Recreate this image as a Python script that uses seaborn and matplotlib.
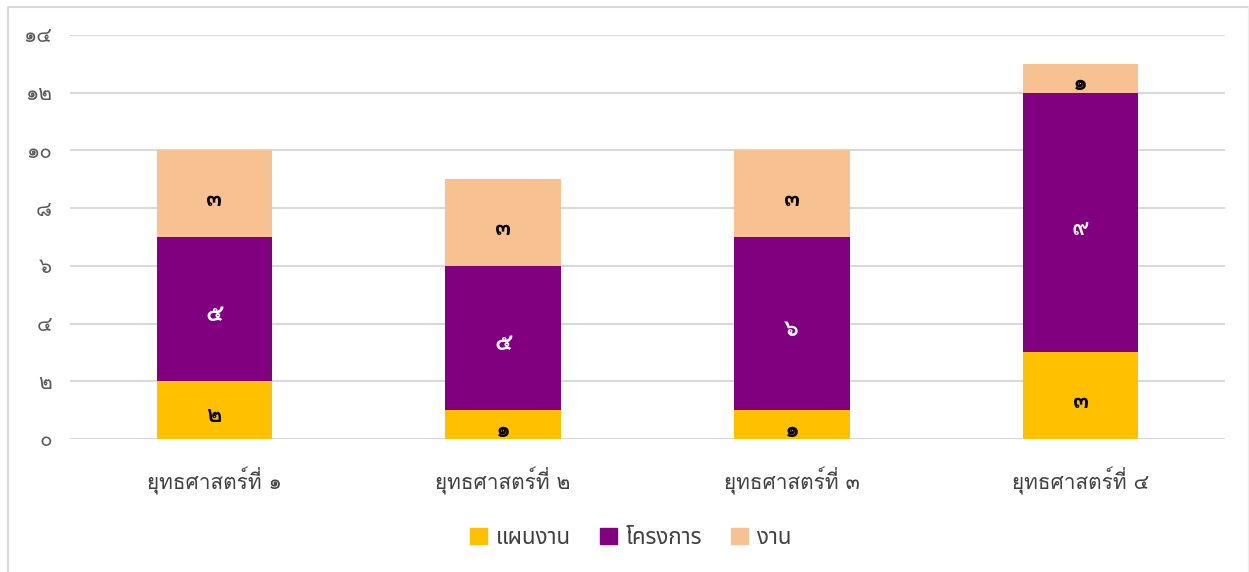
import matplotlib
matplotlib.use("Agg")
import matplotlib.pyplot as plt
import seaborn as sns
import pandas as pd
import numpy as np
from matplotlib.lines import Line2D

categories = ["ยุทธศาสตร์ที่ ๑", "ยุทธศาสตร์ที่ ๒", "ยุทธศาสตร์ที่ ๓", "ยุทธศาสตร์ที่ ๔"]
series_names = ["แผนงาน", "โครงการ", "งาน"]
plans = [2, 1, 1, 3]
projects = [5, 5, 6, 9]
tasks = [3, 3, 3, 1]
y_ticks = [0, 2, 4, 6, 8, 10, 12, 14]
y_tick_labels = ["๐", "๒", "๔", "๖", "๘", "๑๐", "๑๒", "๑๔"]
thai_digits = "๐๑๒๓๔๕๖๗๘๙"

colors = ["#FFC000", "#800080", "#F8C192"]
text_colors = ["black", "white", "black"]

sns.set_theme(style="white")
plt.rcParams['font.family'] = ['Loma', 'Noto Sans Thai', 'DejaVu Sans']

def to_thai(n):
    return "".join(thai_digits[int(c)] for c in str(int(n)))

fig = plt.figure(figsize=(12.49, 5.72), dpi=100)
ax = fig.add_axes([70/1249, 1-439/572, 1155/1249, (439-35)/572])

series = [plans, projects, tasks]
bottom = np.zeros(len(categories))
for name, vals, col, tc in zip(series_names, series, colors, text_colors):
    vals = np.array(vals, dtype=float)
    bars = ax.bar(categories, vals, bottom=bottom, width=0.4, color=col, label=name,
                  edgecolor="none", zorder=3)
    labels = [to_thai(v) for v in vals]
    texts = ax.bar_label(bars, labels=labels, label_type="center", color=tc,
                         fontsize=17, fontweight="bold",
                         family=['Loma', 'Noto Sans Thai Looped', 'DejaVu Sans'])
    for t in texts:
        t.set_va("center")
        t.xyann = (0, -4)
    bottom = bottom + vals

ax.set_xlim(-0.5, 3.5)
ax.set_ylim(0, 14)
ax.set_yticks(y_ticks)
ax.set_yticklabels(y_tick_labels, color="#595959", fontsize=15)
ax.tick_params(axis="x", labelsize=15, labelcolor="#404040", pad=20, length=0)
ax.tick_params(axis="y", pad=13, length=0)
ax.grid(axis="y", color="#D9D9D9", linewidth=1.5, zorder=0)
ax.set_axisbelow(True)
for s in ax.spines.values():
    s.set_visible(False)
ax.set_xlabel("")
ax.set_ylabel("")

handles = [plt.Rectangle((0, 0), 1, 1, color=c) for c in colors]
fig.legend(handles, series_names, loc="center", bbox_to_anchor=(0.505, 1-538/572),
           ncol=3, frameon=False, handlelength=0.75, handleheight=0.75,
           columnspacing=1.3, handletextpad=0.4, labelcolor="#404040",
           prop={'family': ['Noto Sans Thai', 'Loma', 'DejaVu Sans'], 'size': 16})

# figure border (chart area)
fig.add_artist(Line2D([8/1249, 8/1249], [0, 1-7/572], color="#D9D9D9", lw=1.5))
fig.add_artist(Line2D([8/1249, 1248/1249], [1-7/572, 1-7/572], color="#D9D9D9", lw=1.5))
fig.add_artist(Line2D([1247.5/1249, 1247.5/1249], [0, 1-7/572], color="#EEEEEE", lw=1.0))

fig.savefig("out.png", dpi=100)
